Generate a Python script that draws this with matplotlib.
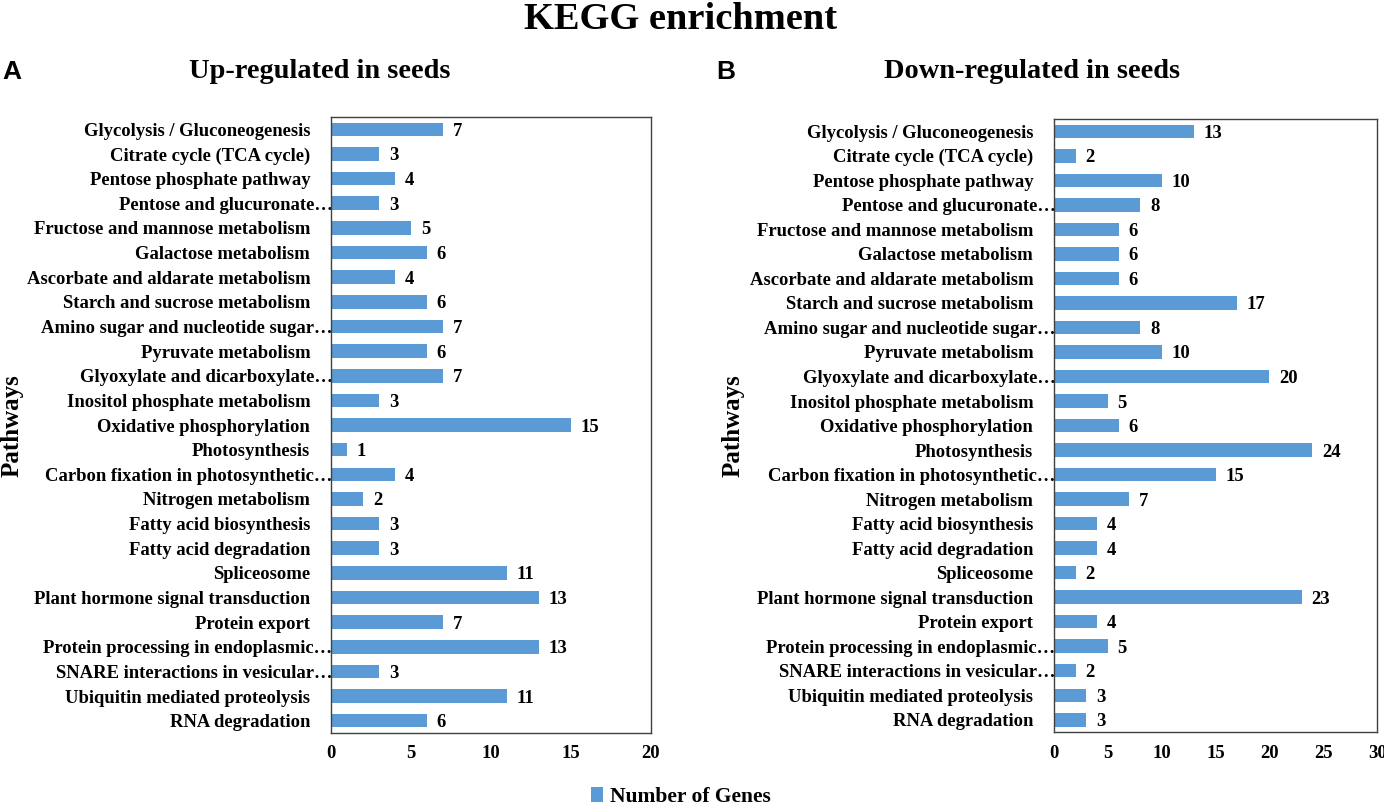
import numpy as np
import matplotlib
matplotlib.use('Agg')
import matplotlib.pyplot as plt

plt.rcParams['font.family'] = ['Liberation Serif', 'DejaVu Serif']
plt.rcParams['font.weight'] = 'bold'

PATHWAYS = [
    'Glycolysis / Gluconeogenesis',
    'Citrate cycle (TCA cycle)',
    'Pentose phosphate pathway',
    'Pentose and glucuronate\u2026',
    'Fructose and mannose metabolism',
    'Galactose metabolism',
    'Ascorbate and aldarate metabolism',
    'Starch and sucrose metabolism',
    'Amino sugar and nucleotide sugar\u2026',
    'Pyruvate metabolism',
    'Glyoxylate and dicarboxylate\u2026',
    'Inositol phosphate metabolism',
    'Oxidative phosphorylation',
    'Photosynthesis',
    'Carbon fixation in photosynthetic\u2026',
    'Nitrogen metabolism',
    'Fatty acid biosynthesis',
    'Fatty acid degradation',
    'Spliceosome',
    'Plant hormone signal transduction',
    'Protein export',
    'Protein processing in endoplasmic\u2026',
    'SNARE interactions in vesicular\u2026',
    'Ubiquitin mediated proteolysis',
    'RNA degradation',
]
UP_GENES = [7, 3, 4, 3, 5, 6, 4, 6, 7, 6, 7, 3, 15, 1, 4, 2, 3, 3, 11, 13, 7, 13, 3, 11, 6]
DOWN_GENES = [13, 2, 10, 8, 6, 6, 6, 17, 8, 10, 20, 5, 6, 24, 15, 7, 4, 4, 2, 23, 4, 5, 2, 3, 3]
UP_TICKS = [0, 5, 10, 15, 20]
DOWN_TICKS = [0, 5, 10, 15, 20, 25, 30]

BAR_COLOR = '#5B9BD5'
FS = 13.4


def draw_panel(ax, values, ticks):
    y = np.arange(len(PATHWAYS))
    bars = ax.barh(y, values, height=0.55, color=BAR_COLOR, label='Number of Genes')
    for yi, v in zip(y, values):
        ax.annotate(str(v), (v, yi), xytext=(7, 0), textcoords='offset points',
                    va='center_baseline', ha='left', fontsize=FS, fontweight='bold')
    ax.set_ylim(len(PATHWAYS) - 0.5, -0.5)
    ax.set_xlim(ticks[0], ticks[-1])
    ax.set_xticks(ticks)
    ax.set_yticks(y)
    ax.set_yticklabels(PATHWAYS, fontsize=FS, fontweight='bold')
    ax.tick_params(axis='both', length=0)
    ax.tick_params(axis='x', pad=9, labelsize=FS)
    # labels cut with an ellipsis sit right against the axis, the others keep a gap
    for t, name in zip(ax.yaxis.get_major_ticks(), PATHWAYS):
        t.set_pad(-1 if name.endswith('\u2026') else 15)
    for s in ax.spines.values():
        s.set_color('#404040')
        s.set_linewidth(1.0)
    return bars


fig = plt.figure(figsize=(13.84, 8.07), dpi=100)
ax1 = fig.add_axes([0.2392, 0.0917, 0.2312, 0.7633])
ax2 = fig.add_axes([0.7616, 0.0929, 0.2334, 0.7596])

bars = draw_panel(ax1, UP_GENES, UP_TICKS)
draw_panel(ax2, DOWN_GENES, DOWN_TICKS)

fig.text(0.492, 0.998, 'KEGG enrichment', ha='center', va='top', fontsize=27.7, fontweight='bold')
fig.text(0.231, 0.911, 'Up-regulated in seeds', ha='center', va='center', fontsize=20.4, fontweight='bold')
fig.text(0.7457, 0.911, 'Down-regulated in seeds', ha='center', va='center', fontsize=20.4, fontweight='bold')
fig.text(0.0087, 0.911, 'A', ha='center', va='center', fontsize=19, fontweight='bold',
         family=['Liberation Sans', 'DejaVu Sans'])
fig.text(0.5246, 0.911, 'B', ha='center', va='center', fontsize=19, fontweight='bold',
         family=['Liberation Sans', 'DejaVu Sans'])
fig.text(0.0087, 0.473, 'Pathways', ha='center', va='center', rotation=90, fontsize=18, fontweight='bold')
fig.text(0.5296, 0.473, 'Pathways', ha='center', va='center', rotation=90, fontsize=18, fontweight='bold')

fig.legend(handles=[bars], loc='center', bbox_to_anchor=(0.492, 0.0124), frameon=False,
           handlelength=0.55, handleheight=0.7, handletextpad=0.3,
           prop={'weight': 'bold', 'size': 15.5})

fig.savefig('out.png', dpi=100)
